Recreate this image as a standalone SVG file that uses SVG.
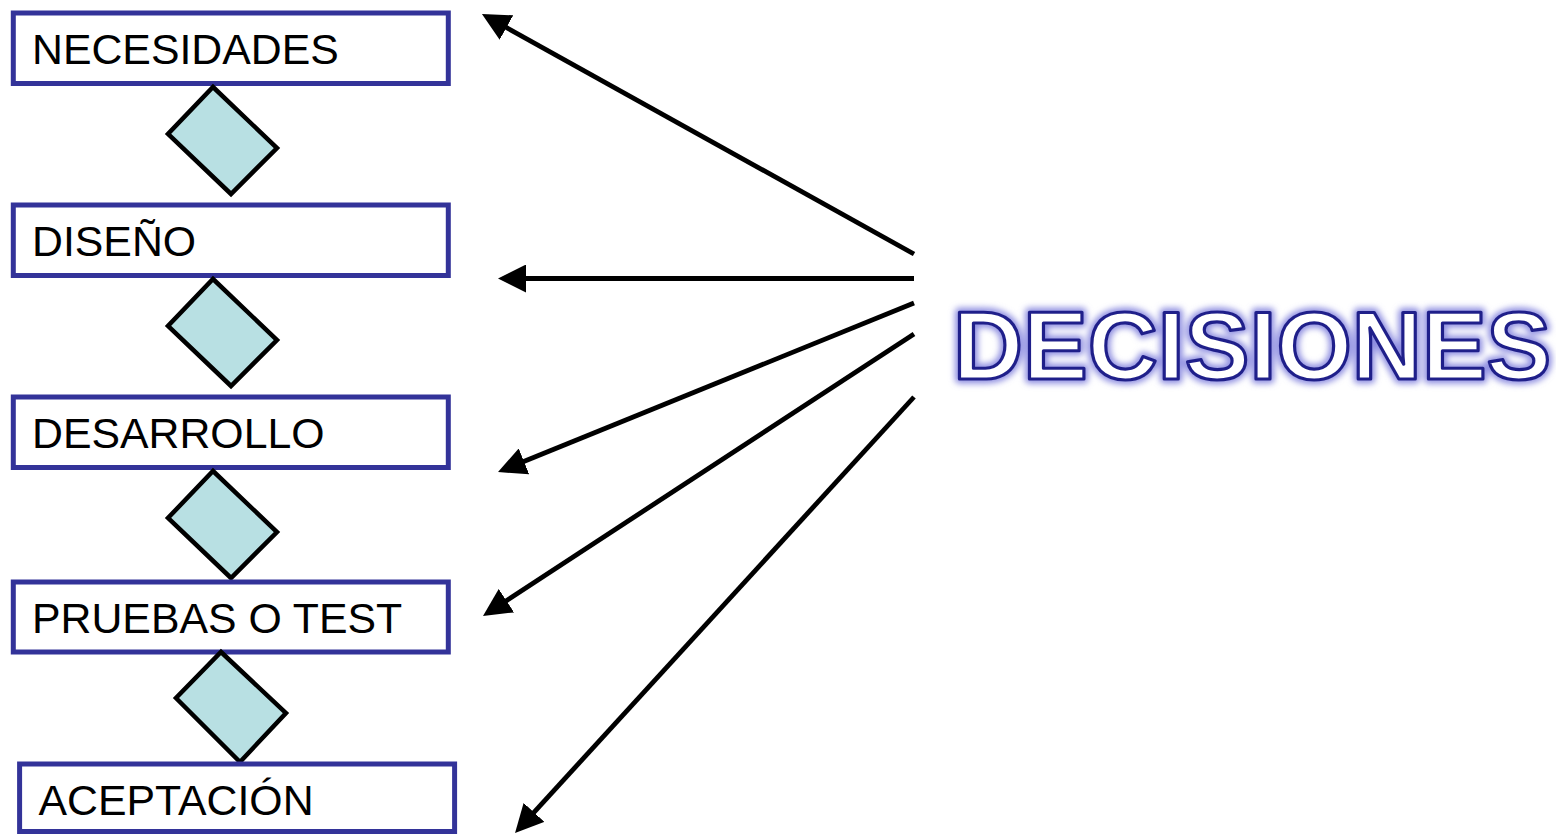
<svg xmlns="http://www.w3.org/2000/svg" width="1556" height="834" viewBox="0 0 1556 834">
<style>
.box{fill:#ffffff;stroke:#333399;stroke-width:5}
.dia{fill:#b8e0e3;stroke:#000000;stroke-width:4.5;stroke-linejoin:miter}
.lbl{font-family:"Liberation Sans",Arial,sans-serif;font-size:42.8px;fill:#000000}
.conn{stroke:#000000;stroke-width:4.8;fill:none;marker-end:url(#ah)}
.big{font-family:"Liberation Sans",Arial,sans-serif;font-size:97px;font-weight:bold}
</style>
<defs>
<marker id="ah" viewBox="0 0 28 28" refX="22" refY="14" markerWidth="28" markerHeight="28" markerUnits="userSpaceOnUse" orient="auto">
<path d="M0,0 L28,14 L0,28 z" fill="#000000"/>
</marker>
<filter id="glow" x="-10%" y="-30%" width="120%" height="160%">
<feGaussianBlur stdDeviation="3"/>
</filter>
</defs>
<rect width="1556" height="834" fill="#ffffff"/>
<g id="connectors">
<line class="conn" x1="914" y1="254" x2="487.2" y2="16.9"/>
<line class="conn" x1="914" y1="278.5" x2="504" y2="278.5"/>
<line class="conn" x1="914" y1="303" x2="503.6" y2="469.7"/>
<line class="conn" x1="914" y1="334" x2="488" y2="612.7"/>
<line class="conn" x1="914" y1="397" x2="519.1" y2="828.6"/>
</g>
<g id="n-necesidades">
<rect class="box" x="13.3" y="13" width="435" height="70.5"/>
<text class="lbl" x="32" y="64">NECESIDADES</text>
</g>
<g id="d1"><polygon class="dia" points="213,87 277,148 231,194 168,134"/></g>
<g id="n-diseno">
<rect class="box" x="13.3" y="205" width="435" height="70.5"/>
<text class="lbl" x="32" y="256">DISEÑO</text>
</g>
<g id="d2"><polygon class="dia" points="213,279 277,340 231,386 168,326"/></g>
<g id="n-desarrollo">
<rect class="box" x="13.3" y="397" width="435" height="70.5"/>
<text class="lbl" x="32" y="448">DESARROLLO</text>
</g>
<g id="d3"><polygon class="dia" points="213,471 277,532 231,578 168,518"/></g>
<g id="n-pruebas">
<rect class="box" x="13.3" y="582" width="435" height="70"/>
<text class="lbl" x="32" y="633">PRUEBAS O TEST</text>
</g>
<g id="d4"><polygon class="dia" points="221,652 286,713 240,762 176,698"/></g>
<g id="n-aceptacion">
<rect class="box" x="19.6" y="764" width="435" height="67.5"/>
<text class="lbl" x="38.5" y="815">ACEPTACIÓN</text>
</g>
<g id="n-decisiones">
<text class="big" x="953" y="379" fill="none" stroke="#8c8ce0" stroke-width="9" stroke-linejoin="round" filter="url(#glow)">DECISIONES</text>
<text class="big" x="953" y="379" fill="#ffffff" stroke="#1f1f8a" stroke-width="3.2" stroke-linejoin="round">DECISIONES</text>
</g>
</svg>
